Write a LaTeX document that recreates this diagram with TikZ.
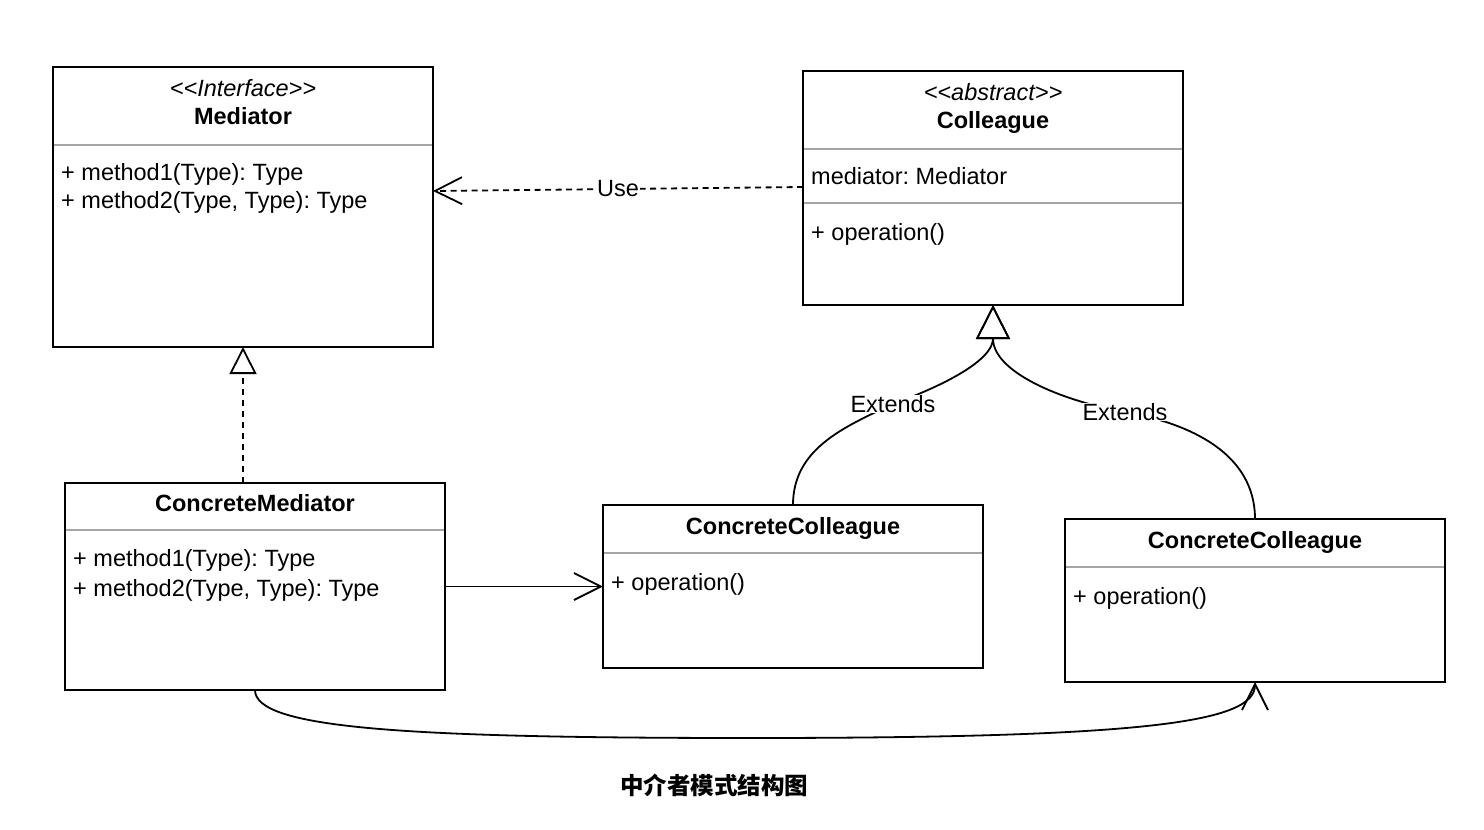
\documentclass[tikz,border=0pt]{standalone}
\usepackage{fontspec}
\setmainfont{Liberation Sans}
\newfontfamily\cjkfont{Noto Sans CJK SC}
\usetikzlibrary{arrows.meta}
\newcommand\umlfs{\fontsize{23.5}{28}\selectfont}
\newcommand\lls{<\kern0pt<}
\newcommand\ggs{>\kern0pt>}
\definecolor{sepgray}{RGB}{165,165,165}
\frenchspacing
\begin{document}
\frenchspacing
\begin{tikzpicture}[x=1pt,y=-1pt,
  box/.style={draw=black, line width=2pt, minimum width=380pt, inner sep=0pt, outer sep=0pt, anchor=north west, fill=white},
  sepline/.style={draw=sepgray, line width=2pt},
  ttl/.style={anchor=base, inner sep=0pt, font=\umlfs\bfseries},
  stereo/.style={anchor=base, inner sep=0pt, font=\umlfs\itshape},
  mem/.style={anchor=base west, inner sep=0pt, font=\umlfs},
  lbl/.style={fill=white, inner sep=1pt, font=\umlfs},
  conn/.style={line width=1.8pt},
  dashy/.style={dash pattern=on 6pt off 4.5pt},
  barb/.style={-{Straight Barb[length=27pt,width=27pt]}},
  tri/.style={-{Triangle[open,length=#1,width=#1,line width=1.8pt]}},
]
\useasboundingbox (0,0) rectangle (1484,830);

% boxes
\node[box, minimum height=280pt] (med) at (53,67) {};
\node[box, minimum height=234pt] (col) at (803,71) {};
\node[box, minimum height=207pt] (cm) at (65,483) {};
\node[box, minimum height=163pt] (cc1) at (603,505) {};
\node[box, minimum height=163pt] (cc2) at (1065,519) {};

% separators
\draw[sepline] ([xshift=1pt,yshift=-78pt]med.north west) -- ([xshift=-1pt,yshift=-78pt]med.north east);
\draw[sepline] ([xshift=1pt,yshift=-78pt]col.north west) -- ([xshift=-1pt,yshift=-78pt]col.north east);
\draw[sepline] ([xshift=1pt,yshift=-132pt]col.north west) -- ([xshift=-1pt,yshift=-132pt]col.north east);
\draw[sepline] ([xshift=1pt,yshift=-47pt]cm.north west) -- ([xshift=-1pt,yshift=-47pt]cm.north east);
\draw[sepline] ([xshift=1pt,yshift=-48pt]cc1.north west) -- ([xshift=-1pt,yshift=-48pt]cc1.north east);
\draw[sepline] ([xshift=1pt,yshift=-48pt]cc2.north west) -- ([xshift=-1pt,yshift=-48pt]cc2.north east);

% texts
\node[stereo] (medst) at (243,96.5) {\lls Interface\ggs};
\node[ttl] (medt) at (243,124.5) {Mediator};
\node[mem] (medm1) at (61,180.5) {+ method1(Type): Type};
\node[mem] (medm2) at (61,208.5) {+ method2(Type, Type): Type};

\node[stereo] (colst) at (993,100.5) {\lls abstract\ggs};
\node[ttl] (colt) at (993,128.5) {Colleague};
\node[mem] (cola) at (811,184.5) {mediator: Mediator};
\node[mem] (colo) at (811,240.5) {+ operation()};

\node[ttl] (cmt) at (255,511.5) {ConcreteMediator};
\node[mem] (cmm1) at (73,566.5) {+ method1(Type): Type};
\node[mem] (cmm2) at (73,596) {+ method2(Type, Type): Type};

\node[ttl] (cc1t) at (793,534.5) {ConcreteColleague};
\node[mem] (cc1o) at (611,590.5) {+ operation()};

\node[ttl] (cc2t) at (1255,548.5) {ConcreteColleague};
\node[mem] (cc2o) at (1073,604.5) {+ operation()};

% connectors
\draw[conn, dashy, barb] ([yshift=-116pt]col.north west) -- node[lbl] (use) {Use} ([yshift=-124pt]med.north east);

\draw[conn, dash pattern=on 6pt off 5pt, tri=27pt] ([xshift=-12pt]cm.north) -- (med.south);

\coordinate (e1) at (893,404);
\coordinate (e2) at (1125,412);
\draw[conn, tri=34pt] (cc1.north) to[out=90,in=205] (e1) to[out=20,in=-90] (col.south);
\draw[conn, tri=34pt] (cc2.north) to[out=90,in=-10] (e2) to[out=170,in=-90] (col.south);
\node[lbl, inner sep=0pt] (ext1) at (e1) {Extends};
\node[lbl, inner sep=0pt] (ext2) at (e2) {Extends};

\draw[conn, barb] (cm.east) -- (cc1.west);

\coordinate (low) at (750,738);
\draw[conn, -{Straight Barb[length=26pt,width=26pt]}] (cm.south) .. controls (255,728) and (400,738) .. (low) .. controls (1150,738) and (1255,722) .. (cc2.south);

\node[font=\cjkfont\bfseries\fontsize{23.5}{28}\selectfont, inner sep=0pt] (cap) at (714,785) {中介者模式结构图};
\end{tikzpicture}
\end{document}
